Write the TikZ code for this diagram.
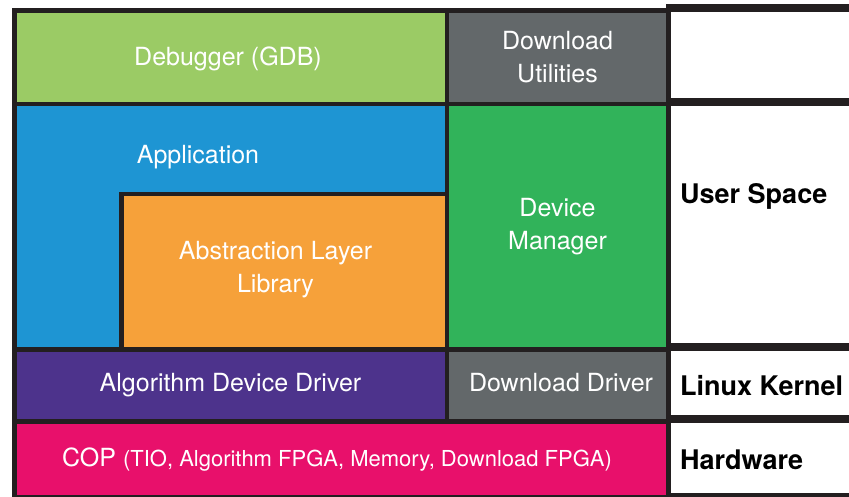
\documentclass[tikz,border=0pt]{standalone}
\usepackage{fontspec}
\setmainfont{TeX Gyre Heros}
\usepackage{xcolor}
\usetikzlibrary{positioning}

\definecolor{dbggreen}{HTML}{9BCB65}
\definecolor{utilgray}{HTML}{63686A}
\definecolor{appblue}{HTML}{1E95D3}
\definecolor{liborange}{HTML}{F6A13A}
\definecolor{mgrgreen}{HTML}{31B35A}
\definecolor{drvpurple}{HTML}{4D338C}
\definecolor{copred}{HTML}{E8106B}
\definecolor{rulegray}{HTML}{231F20}

\tikzset{
	cell/.style={draw=rulegray, line width=4.5pt, anchor=north west, inner sep=0pt,
		text=white, align=center, font=\fontsize{25}{33}\selectfont},
	celltext/.style={text=white, align=center, font=\fontsize{25}{33}\selectfont},
	layer/.style={anchor=west, inner sep=0pt, text=black, font=\bfseries\fontsize{27}{32}\selectfont},
	band/.style={draw=rulegray, line width=8pt},
}

\begin{document}
\begin{tikzpicture}[x=1pt, y=-1pt]
			\useasboundingbox (0,0) rectangle (849,497);
			
			% Top row: debugger and download tools
			\node[cell, fill=dbggreen, minimum width=432.5pt, minimum height=93.5pt] (dbg) at (12,8.5) {};
			\node[celltext] (dbglabel) at (228,59) {Debugger (GDB)};
			\node[cell, fill=utilgray, minimum width=221.5pt, minimum height=93.5pt] (util) at (444.5,8.5) {Download\\Utilities};
			
			% Application block, with the library sitting inside it
			\node[cell, fill=appblue, minimum width=432.5pt, minimum height=245pt] (app) at (12,102) {};
			\node[celltext] (applabel) at (198,157) {Application};
			\node[cell, fill=liborange, minimum width=325.5pt, minimum height=155pt] (lib) at (119,192) {};
			\node[celltext] (liblabel) at (275.5,270) {Abstraction Layer\\Library};
			\node[cell, fill=mgrgreen, minimum width=221.5pt, minimum height=245pt] (mgr) at (444.5,102) {Device\\Manager};
			
			% Kernel drivers
			\node[cell, fill=drvpurple, minimum width=432.5pt, minimum height=72pt] (add) at (12,347) {Algorithm Device Driver};
			\node[cell, fill=utilgray, minimum width=221.5pt, minimum height=72pt] (ddrv) at (444.5,347) {};
			\node[celltext] (ddrvlabel) at (561,383) {Download Driver};
			
			% Hardware
			\node[cell, fill=copred, minimum width=654pt, minimum height=76pt] (cop) at (12,419) {};
			\node[celltext] (coplabel) at (337,460)
				{COP {\fontsize{22}{30}\selectfont(TIO, Algorithm FPGA, Memory, Download FPGA)}};
			
			% Layer column on the right
			\foreach \y in {8.5,102.5,347,419}
				\draw[band] (666,\y) -- (860,\y);
			\draw[rulegray, line width=4.5pt] (666,495) -- (860,495);
			\node[layer] (user) at (680,196) {User Space};
			\node[layer] (kernel) at (680,386) {Linux Kernel};
			\node[layer] (hw) at (680,460) {Hardware};
			
		\end{tikzpicture}
\end{document}
